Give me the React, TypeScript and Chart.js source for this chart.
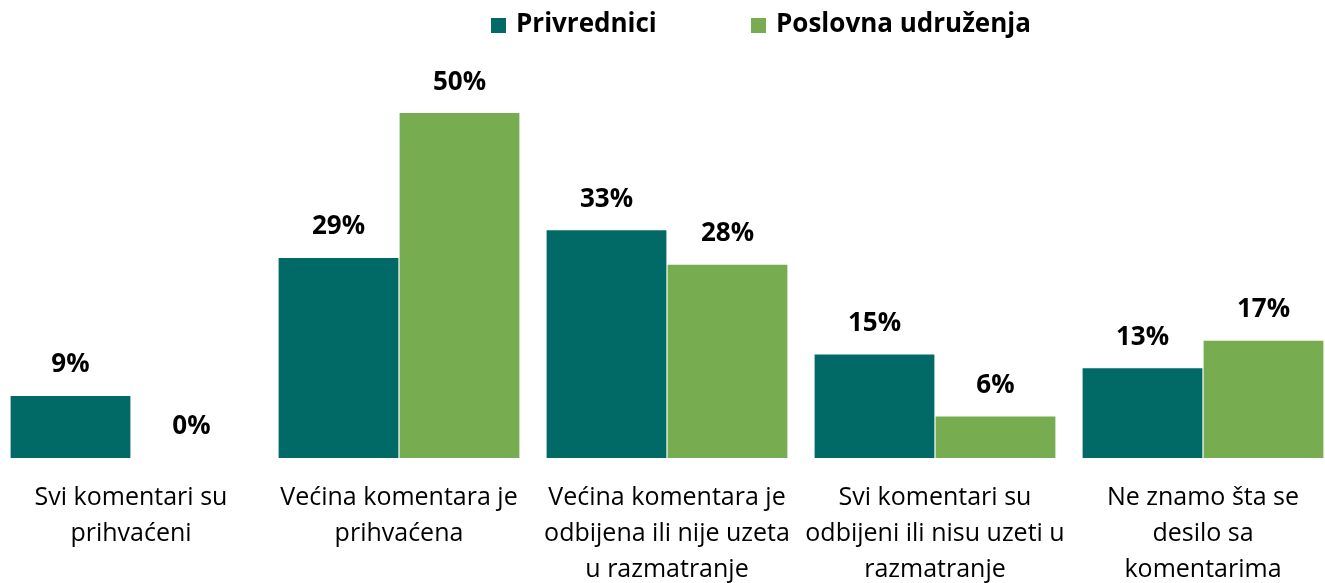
import React, { useEffect, useRef } from "react";
import { Chart, registerables } from "chart.js";

Chart.register(...registerables);

const categories: string[][] = [
  ["Svi komentari su", "prihvaćeni"],
  ["Većina komentara je", "prihvaćena"],
  ["Većina komentara je", "odbijena ili nije uzeta", "u razmatranje"],
  ["Svi komentari su", "odbijeni ili nisu uzeti u", "razmatranje"],
  ["Ne znamo šta se", "desilo sa", "komentarima"],
];
const seriesNames = ["Privrednici", "Poslovna udruženja"];
const privrednici = [9, 29, 33, 15, 13];
const poslovnaUdruzenja = [0, 50, 28, 6, 17];
const colors = ["#026A66", "#77AC51"];

const FONT = "'Open Sans', sans-serif";

const labelPlugin = {
  id: "valueLabels",
  afterDatasetsDraw(chart: any) {
    const ctx = chart.ctx;
    ctx.save();
    ctx.font = `bold 26px ${FONT}`;
    ctx.fillStyle = "#000";
    ctx.textAlign = "center";
    ctx.textBaseline = "middle";
    chart.data.datasets.forEach((ds: any, i: number) => {
      const meta = chart.getDatasetMeta(i);
      meta.data.forEach((bar: any, j: number) => {
        ctx.fillText(`${ds.data[j]}%`, bar.x, bar.y - 31);
      });
    });
    ctx.restore();
  },
};

const legendPlugin = {
  id: "customLegend",
  afterDraw(chart: any) {
    const ctx = chart.ctx;
    ctx.save();
    ctx.font = `bold 26px ${FONT}`;
    ctx.textBaseline = "middle";
    ctx.textAlign = "left";
    const starts = [494, 754];
    chart.data.datasets.forEach((ds: any, i: number) => {
      const x = starts[i];
      ctx.fillStyle = ds.backgroundColor;
      ctx.fillRect(x, 18, 15, 15);
      ctx.fillStyle = "#000";
      ctx.fillText(ds.label, x + 25, 25);
    });
    ctx.restore();
  },
};

export default function App() {
  const ref = useRef<HTMLCanvasElement>(null);
  useEffect(() => {
    document.body.style.overflow = "hidden";
    const chart = new Chart(ref.current!, {
      type: "bar",
      data: {
        labels: categories,
        datasets: [
          { label: seriesNames[0], data: privrednici, backgroundColor: colors[0] },
          { label: seriesNames[1], data: poslovnaUdruzenja, backgroundColor: colors[1] },
        ],
      },
      options: {
        animation: false,
        responsive: false,
        maintainAspectRatio: false,
        layout: { padding: { top: 60, left: 0, right: 0, bottom: -27 } },
        datasets: {
          bar: { categoryPercentage: 0.903, barPercentage: 0.99 },
        },
        plugins: {
          legend: { display: false },
          tooltip: { enabled: false },
        },
        scales: {
          x: {
            grid: { display: false, drawTicks: false },
            border: { display: false },
            ticks: {
              color: "#000",
              font: { family: FONT, size: 25, lineHeight: 1.44 },
              padding: 22,
              maxRotation: 0,
              autoSkip: false,
            },
          },
          y: {
            display: false,
            min: 0,
            max: 57.7,
          },
        },
      },
      plugins: [labelPlugin, legendPlugin],
    });
    return () => chart.destroy();
  }, []);
  return (
    <div style={{ position: "absolute", left: -3, top: 0, width: 1340, height: 583 }}>
      <canvas ref={ref} width={1340} height={583} style={{ display: "block" }} />
    </div>
  );
}
